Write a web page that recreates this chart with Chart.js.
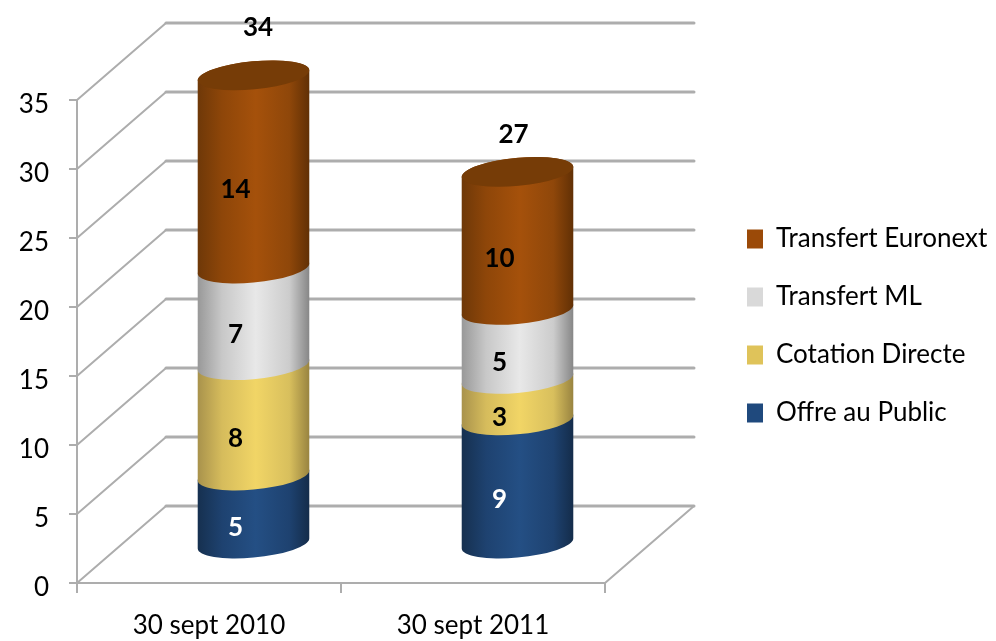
<!DOCTYPE html>
<html>
<head>
<meta charset="utf-8">
<style>
  html, body { margin: 0; padding: 0; background: #fff; }
  canvas { display: block; }
</style>
<script src="https://cdn.jsdelivr.net/npm/chart.js@4/dist/chart.umd.js"></script>
</head>
<body>
<canvas id="chart" width="996" height="641"></canvas>
<script>
const categories = ["30 sept 2010", "30 sept 2011"]
const offreAuPublic = [5, 9]
const cotationDirecte = [8, 3]
const transfertML = [7, 5]
const transfertEuronext = [14, 10]
const totals = [34, 27]

// chart depth of the fake 3D box, in pixels
const DEPTH_X = 89
const DEPTH_Y = 77
const TILT = -5.45 * Math.PI / 180
const RADIUS_Y = 14
const FONT = "Lato, sans-serif"

const shades = [
  { stops: ["#16304f", "#1e4270", "#244f84", "#1e4270", "#142c4a"], label: "#fff" },
  { stops: ["#a8924c", "#d6bc5c", "#f1d566", "#d8bf5d", "#988340"], label: "#000" },
  { stops: ["#989898", "#c8c8c8", "#e8e8e8", "#cccccc", "#868686"], label: "#000" },
  { stops: ["#6e3808", "#8e4609", "#a5510b", "#8f470a", "#613005"], label: "#000" }
]
const CAP = "#763c07"

function drawBox(ctx, x, y) {
  ctx.save()
  ctx.strokeStyle = "#adadad"
  ctx.lineCap = "round"
  y.ticks.forEach(tick => {
    const py = y.getPixelForValue(tick.value)
    ctx.lineWidth = 2
    ctx.beginPath()
    ctx.moveTo(x.left, py)
    ctx.lineTo(x.left + DEPTH_X, py - DEPTH_Y)
    ctx.stroke()
    ctx.lineWidth = 3
    ctx.beginPath()
    ctx.moveTo(x.left + DEPTH_X, py - DEPTH_Y)
    ctx.lineTo(x.right + DEPTH_X, py - DEPTH_Y)
    ctx.stroke()
  })
  const floor = y.getPixelForValue(0)
  ctx.lineWidth = 2
  ctx.beginPath()
  ctx.moveTo(x.right + DEPTH_X, floor - DEPTH_Y)
  ctx.lineTo(x.right, floor)
  ctx.stroke()
  ctx.restore()
}

function drawSegment(ctx, bar, shade, isTop) {
  const cx = bar.x + DEPTH_X / 2
  const lower = bar.base - DEPTH_Y / 2
  const upper = bar.y - DEPTH_Y / 2
  const rx = bar.width / 2 + 0.25
  const t0 = Math.atan2(-RADIUS_Y * Math.sin(TILT), rx * Math.cos(TILT))

  const grad = ctx.createLinearGradient(cx - rx, 0, cx + rx, 0)
  const positions = [0, 0.22, 0.52, 0.82, 1]
  shade.stops.forEach((color, i) => grad.addColorStop(positions[i], color))

  ctx.fillStyle = grad
  ctx.beginPath()
  ctx.ellipse(cx, lower, rx, RADIUS_Y, TILT, t0 + Math.PI, t0, true)
  ctx.ellipse(cx, upper, rx, RADIUS_Y, TILT, t0, t0 + Math.PI, true)
  ctx.closePath()
  ctx.fill()

  if (isTop) {
    ctx.fillStyle = CAP
    ctx.beginPath()
    ctx.ellipse(cx, upper, rx, RADIUS_Y, TILT, 0, Math.PI * 2)
    ctx.fill()
  }
}

const cylinders = {
  id: "cylinders",
  afterLayout(chart) {
    const legend = chart.legend
    const pad = legend.options.labels.padding
    legend.left = 747 - pad
    legend.right = 996
    legend.top = 194
    legend.bottom = 641
  },
  beforeDatasetsDraw(chart) {
    const { ctx, scales: { x, y } } = chart
    drawBox(ctx, x, y)

    const count = chart.data.datasets.length
    categories.forEach((_, i) => {
      chart.data.datasets.forEach((ds, d) => {
        drawSegment(ctx, chart.getDatasetMeta(d).data[i], shades[d], d === count - 1)
      })
    })

    ctx.textAlign = "center"
    ctx.textBaseline = "middle"
    ctx.font = "bold 26px " + FONT
    chart.data.datasets.forEach((ds, d) => {
      ctx.fillStyle = shades[d].label
      chart.getDatasetMeta(d).data.forEach((bar, i) => {
        ctx.fillText(ds.data[i], bar.x + DEPTH_X / 2 - 18, (bar.y + bar.base) / 2 - DEPTH_Y / 2 + 18)
      })
    })

    ctx.fillStyle = "#000"
    const topBars = chart.getDatasetMeta(count - 1).data
    const totalOffset = [[4.5, -48], [-4, -37]]
    totals.forEach((total, i) => {
      const bar = topBars[i]
      ctx.fillText(total, bar.x + DEPTH_X / 2 + totalOffset[i][0], bar.y - DEPTH_Y / 2 + totalOffset[i][1])
    })
    return false
  }
}

new Chart(document.getElementById("chart"), {
  type: "bar",
  plugins: [cylinders],
  data: {
    labels: categories,
    datasets: [
      { label: "Offre au Public", data: offreAuPublic, backgroundColor: "#1f497d" },
      { label: "Cotation Directe", data: cotationDirecte, backgroundColor: "#dfc35a" },
      { label: "Transfert ML", data: transfertML, backgroundColor: "#d9d9d9" },
      { label: "Transfert Euronext", data: transfertEuronext, backgroundColor: "#9b4a08" }
    ]
  },
  options: {
    responsive: false,
    animation: false,
    events: [],
    barPercentage: 0.4225,
    categoryPercentage: 1,
    layout: { padding: { top: 100, right: 390, bottom: 0, left: 0 } },
    scales: {
      x: {
        stacked: true,
        afterFit(scale) { scale.height = 58 },
        border: { color: "#adadad", width: 2 },
        grid: { drawOnChartArea: false, color: "#adadad", lineWidth: 2, tickLength: 10 },
        ticks: { color: "#000", padding: 17, font: { family: FONT, size: 26 }, maxRotation: 0 }
      },
      y: {
        stacked: true,
        min: 0,
        max: 35,
        afterFit(scale) { scale.width = 77 },
        border: { color: "#adadad", width: 2 },
        grid: { drawOnChartArea: false, color: "#adadad", lineWidth: 2, tickLength: 8 },
        ticks: { stepSize: 5, color: "#000", padding: 20, labelOffset: 5, font: { family: FONT, size: 26 } }
      }
    },
    plugins: {
      tooltip: { enabled: false },
      legend: {
        position: "right",
        align: "start",
        reverse: true,
        maxWidth: 1,
        labels: {
          boxWidth: 16,
          boxHeight: 19,
          padding: 32,
          color: "#000",
          font: { family: FONT, size: 26 }
        }
      }
    }
  }
})
</script>
</body>
</html>
